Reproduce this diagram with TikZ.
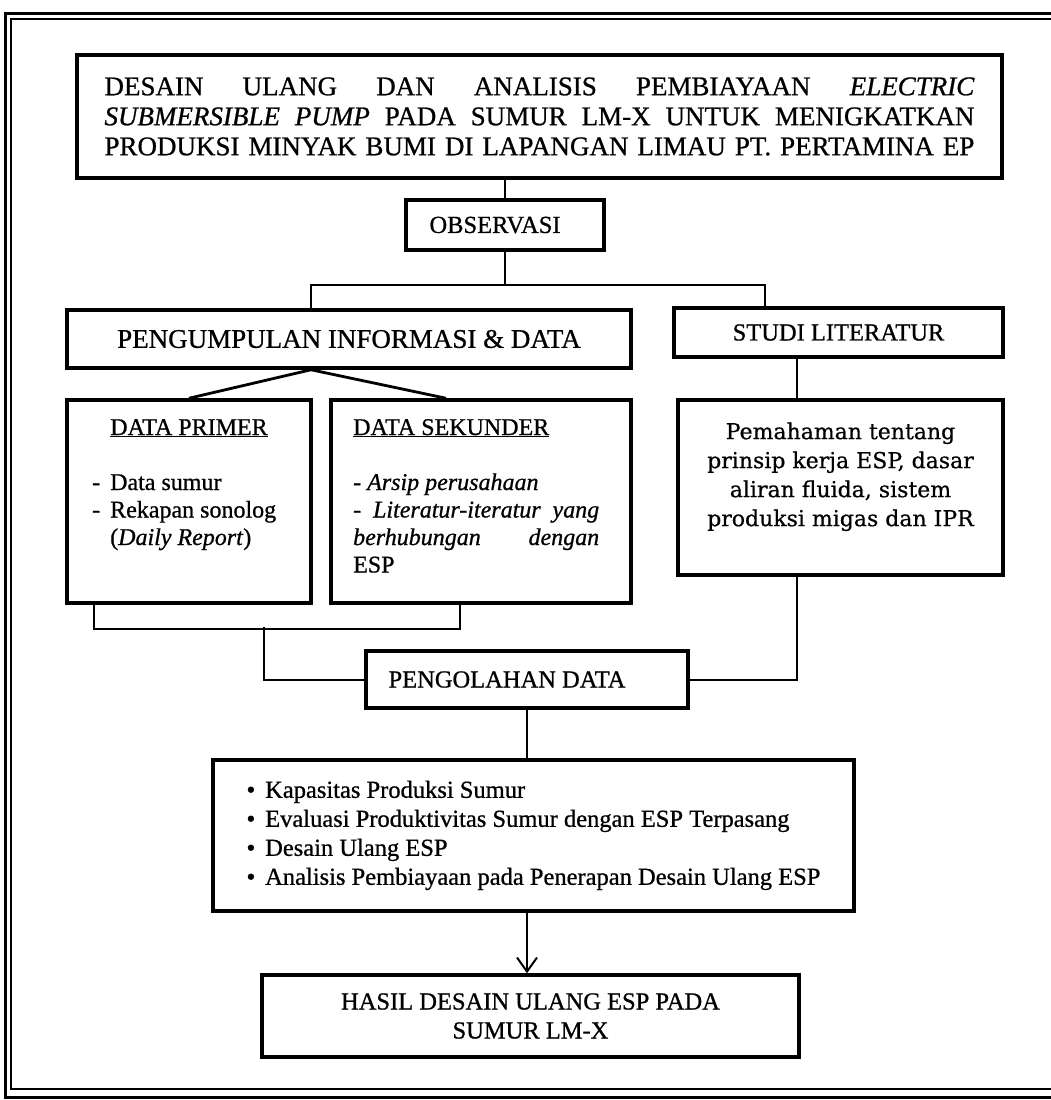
\documentclass[tikz,border=0pt]{standalone}
\usepackage{fontspec}
\setmainfont{Liberation Serif}[UprightFeatures={FakeBold=0.8}, ItalicFeatures={FakeBold=0.8}]
\newfontfamily\hurufpaham{DejaVu Serif}[FakeBold=0.6]
\newfontfamily\hurufbulat{Liberation Serif}[FakeBold=2]
\usetikzlibrary{arrows.meta}

\newcommand{\titikbesar}{{\hurufbulat\textbullet}}

\tikzset{
  kotak/.style={draw, line width=3.5pt, inner sep=0pt, align=center,
                font=\fontsize{24.5}{29}\selectfont},
  garis/.style={line width=2pt},
  teks/.style={inner sep=0pt, font=\fontsize{24}{27.5}\selectfont},
}

\begin{document}
\begin{tikzpicture}[x=1pt, y=-1pt]
        \useasboundingbox (0,0) rectangle (1051,1100);
        \clip (0,0) rectangle (1051,1100);

        % Double frame round the page
        \draw[line width=3pt] (1060,13) -- (5,13) -- (5,1097) -- (1060,1097);
        \draw[line width=1.5pt] (1060,19) -- (11,19) -- (11,1089) -- (1060,1089);

        % Title box
        \node[kotak, minimum width=925pt, minimum height=123pt,
              font=\fontsize{27}{30}\selectfont] (judul) at (539.5,116.5)
              {\makebox[870pt][s]{DESAIN ULANG DAN ANALISIS PEMBIAYAAN \textit{ELECTRIC}}\\
               \makebox[870pt][s]{\textit{SUBMERSIBLE PUMP} PADA SUMUR LM-X UNTUK MENIGKATKAN}\\
               \makebox[870pt][s]{PRODUKSI MINYAK BUMI DI LAPANGAN LIMAU PT.\ PERTAMINA EP}};

        \node[kotak, minimum width=198pt, minimum height=50pt] (obs) at (505,225) {OBSERVASI\hspace{20pt}};

        % Second row
        \node[kotak, minimum width=564pt, minimum height=58pt,
              font=\fontsize{27}{30}\selectfont] (kumpul) at (349,339) {PENGUMPULAN INFORMASI \& DATA};
        \node[kotak, minimum width=329pt, minimum height=49pt] (studi) at (838.5,332.5) {STUDI LITERATUR};

        % Data boxes
        \node[kotak, minimum width=244pt, minimum height=203pt] (primer) at (189,501.5) {};
        \node[kotak, minimum width=300pt, minimum height=203pt] (sekunder) at (481,501.5) {};
        \node[kotak, minimum width=325pt, minimum height=175pt] (paham) at (840.5,487.5) {};

        \node[teks, anchor=base] (primerjudul) at (189,435) {\underline{DATA PRIMER}};
        \node[teks, anchor=base west] (primerisi) at (92,490)
              {\begin{tabular}[t]{@{}l@{\hspace{10pt}}l@{}}
                 - & Data sumur\\
                 - & Rekapan sonolog\\
                   & (\textit{Daily Report})
               \end{tabular}};

        \node[teks, anchor=base west] (sekunderjudul) at (353,435) {\underline{DATA SEKUNDER}};
        \node[teks, anchor=base west] (sekunderisi) at (353,490)
              {\parbox[t]{246pt}{\itshape - Arsip perusahaan\\
                 \makebox[\linewidth][s]{- Literatur-iteratur yang}\\
                 \makebox[\linewidth][s]{berhubungan dengan}\\
                 \upshape ESP}};

        \node[teks, anchor=north, align=center,
              font=\hurufpaham\fontsize{22}{29}\selectfont] (pahamisi) at ([yshift=-24pt]paham.north)
              {Pemahaman tentang\\ prinsip kerja ESP, dasar\\ aliran fluida, sistem\\ produksi migas dan IPR};

        % Processing
        \node[kotak, minimum width=322pt, minimum height=57pt] (olah) at (527,679.5) {PENGOLAHAN DATA\hspace{40pt}};

        \node[kotak, minimum width=641pt, minimum height=151pt] (daftar) at (533.5,835.5)
              {\begin{tabular}{@{}l@{\hspace{10pt}}l@{}}
                 \titikbesar & Kapasitas Produksi Sumur\\
                 \titikbesar & Evaluasi Produktivitas Sumur dengan ESP Terpasang\\
                 \titikbesar & Desain Ulang ESP\\
                 \titikbesar & Analisis Pembiayaan pada Penerapan Desain Ulang ESP
               \end{tabular}};

        \node[kotak, minimum width=537pt, minimum height=82pt] (hasil) at (530.5,1016)
              {HASIL DESAIN ULANG ESP PADA\\ SUMUR LM-X};

        % Connectors
        \coordinate (cabkiri) at (311,285);
        \coordinate (cabkanan) at (765,285);
        \coordinate (kurung) at (264,627);
        \coordinate (kanan) at (797,0);

        \draw[garis] (judul.south -| obs.north) -- (obs.north);
        \draw[garis] (obs.south) -- (obs.south |- cabkiri);
        \draw[garis] (kumpul.north -| cabkiri) -- (cabkiri) -- (cabkanan) -- (studi.north -| cabkanan);

        \draw[line width=2.8pt] (primer.north) -- (kumpul.south -| cabkiri) -- ([xshift=-35pt]sekunder.north);
        \draw[garis] ([xshift=-95pt]primer.south) -- ++(0,24) -| ([xshift=-21pt]sekunder.south);
        \draw[garis] (kurung) |- (olah.west);

        \draw[garis] (studi.south -| kanan) -- (paham.north -| kanan);
        \draw[garis] (paham.south -| kanan) |- (olah.east);

        \draw[garis] (olah.south) -- (daftar.north -| olah.south);
        \draw[garis, -{Straight Barb[length=14pt, width=20pt, line width=2pt]}]
              (daftar.south -| olah.south) -- (hasil.north -| olah.south);

    \end{tikzpicture}
\end{document}
